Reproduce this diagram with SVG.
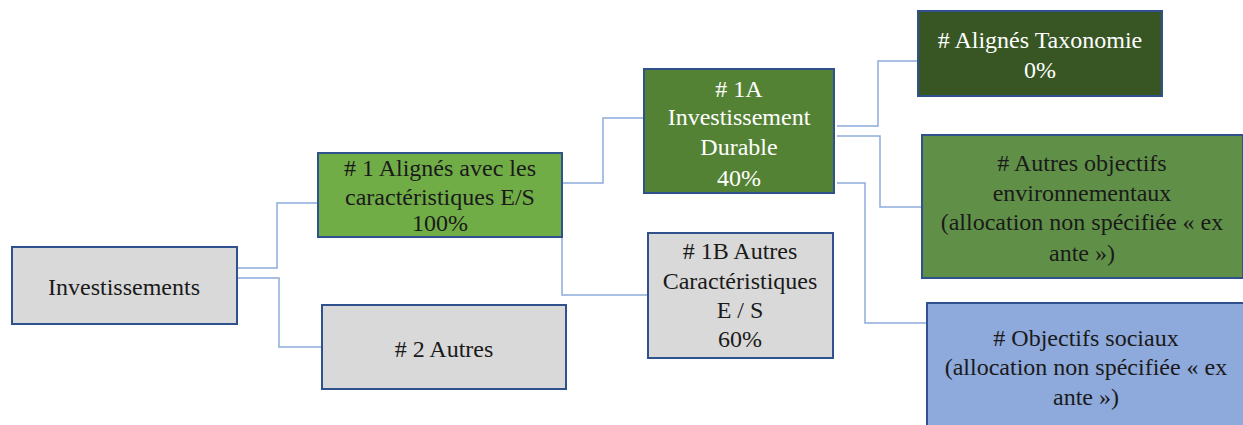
<svg xmlns="http://www.w3.org/2000/svg" width="1243" height="425" viewBox="0 0 1243 425">
<style>
.box{stroke:#2F528F;stroke-width:2}
.t{font-family:'Liberation Serif','Times New Roman',serif;font-size:24px;text-anchor:middle;fill:#1a1a1a}
.w{fill:#ffffff}
.c{fill:none;stroke:#8FAADC;stroke-width:1.5}
</style>
<rect width="1243" height="425" fill="#ffffff"/>
<g id="connectors">
<polyline class="c" points="237,268 277,268 277,203 318,203"/>
<polyline class="c" points="237,278 279,278 279,347 322,347"/>
<polyline class="c" points="562,183 603,183 603,118 644,118"/>
<polyline class="c" points="562,237 562,295 648,295"/>
<polyline class="c" points="837,126 878,126 878,61 918,61"/>
<polyline class="c" points="837,136 880,136 880,207 922,207"/>
<polyline class="c" points="837,183 865,183 865,323 927,323"/>
</g>
<g id="investissements">
<rect class="box" x="12" y="247" width="225" height="77" fill="#D9D9D9"/>
<text class="t" x="124" y="295">Investissements</text>
</g>
<g id="n1">
<rect class="box" x="318" y="153" width="244" height="84" fill="#70AD47"/>
<text class="t" x="440" y="176"># 1 Alignés avec les</text>
<text class="t" x="440" y="205">caractéristiques E/S</text>
<text class="t" x="440" y="231">100%</text>
</g>
<g id="n2">
<rect class="box" x="322" y="305" width="244" height="84" fill="#D9D9D9"/>
<text class="t" x="444" y="357"># 2 Autres</text>
</g>
<g id="n1a">
<rect class="box" x="644" y="69" width="190" height="124" fill="#548235"/>
<text class="t w" x="739" y="97"># 1A</text>
<text class="t w" x="739" y="125">Investissement</text>
<text class="t w" x="739" y="155">Durable</text>
<text class="t w" x="739" y="186">40%</text>
</g>
<g id="n1b">
<rect class="box" x="648" y="233" width="185" height="125" fill="#D9D9D9"/>
<text class="t" x="740" y="259"># 1B Autres</text>
<text class="t" x="740" y="289">Caractéristiques</text>
<text class="t" x="740" y="318">E / S</text>
<text class="t" x="740" y="347">60%</text>
</g>
<g id="taxo">
<rect class="box" x="918" y="11" width="244" height="85" fill="#375623"/>
<text class="t w" x="1040" y="48"># Alignés Taxonomie</text>
<text class="t w" x="1040" y="78">0%</text>
</g>
<g id="env">
<rect class="box" x="922" y="135" width="321" height="143" fill="#609048"/>
<text class="t" x="1082" y="171"># Autres objectifs</text>
<text class="t" x="1082" y="201">environnementaux</text>
<text class="t" x="1082" y="230">(allocation non spécifiée « ex</text>
<text class="t" x="1082" y="261">ante »)</text>
</g>
<g id="social">
<rect class="box" x="927" y="303" width="318" height="125" fill="#8EA9DB"/>
<text class="t" x="1086" y="346"># Objectifs sociaux</text>
<text class="t" x="1086" y="375">(allocation non spécifiée « ex</text>
<text class="t" x="1086" y="405">ante »)</text>
</g>
</svg>
